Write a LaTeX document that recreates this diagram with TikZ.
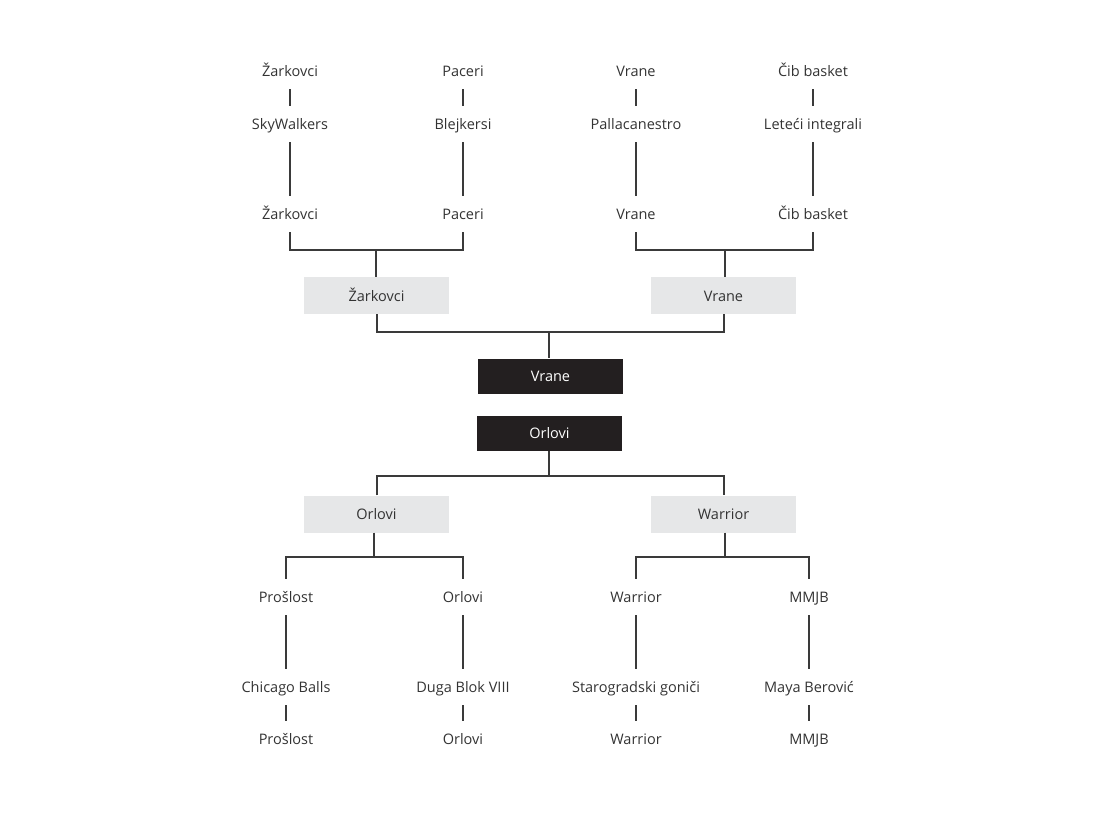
\documentclass[tikz,border=0pt]{standalone}
\usepackage{fontspec}
\setmainfont{Open Sans}
\definecolor{ink}{HTML}{333333}
\definecolor{linec}{HTML}{3A3A3A}
\definecolor{boxgray}{HTML}{E6E7E8}
\definecolor{boxblack}{HTML}{231F20}
\begin{document}
\begin{tikzpicture}[x=1pt,y=-1pt,
  txt/.style={text height=12.5pt,text depth=1.5pt,font=\fontsize{14.5}{17}\selectfont},
  lbl/.style={txt,inner sep=0pt,minimum height=36pt,text=ink},
  graybox/.style={txt,fill=boxgray,inner sep=0pt,minimum width=145pt,minimum height=37pt,text=ink},
  blackbox/.style={txt,fill=boxblack,inner sep=0pt,minimum width=145pt,minimum height=35pt,text=white},
  conn/.style={draw=linec,line width=2pt}]
\useasboundingbox (0,0) rectangle (1100,816);
% top half
\node[lbl] (a1) at (290,71) {Žarkovci};
\node[lbl] (a2) at (290,124) {SkyWalkers};
\node[lbl] (a3) at (290,214) {Žarkovci};
\node[lbl] (b1) at (463,71) {Paceri};
\node[lbl] (b2) at (463,124) {Blejkersi};
\node[lbl] (b3) at (463,214) {Paceri};
\node[lbl] (c1) at (636,71) {Vrane};
\node[lbl] (c2) at (636,124) {Pallacanestro};
\node[lbl] (c3) at (636,214) {Vrane};
\node[lbl] (d1) at (813,71) {Čib basket};
\node[lbl] (d2) at (813,124) {Leteći integrali};
\node[lbl] (d3) at (813,214) {Čib basket};
\node[graybox] (sz) at (376.5,295.5) {Žarkovci};
\node[graybox] (sv) at (723.5,295.5) {Vrane};
\node[blackbox] (fv) at (550.5,376) {Vrane};
\node[blackbox] (fo) at (549.5,433) {Orlovi};
\coordinate (j1) at (376,250);
\coordinate (j2) at (725,250);
\coordinate (j3) at (549,332);
\foreach \p/\q in {a1/a2,a2/a3,b1/b2,b2/b3,c1/c2,c2/c3,d1/d2,d2/d3}
  \draw[conn] (\p.south) -- (\q.north);
\draw[conn] (a3.south) -- (a3.south |- j1) -- (b3.south |- j1) -- (b3.south);
\draw[conn] (j1) -- (j1 |- sz.north);
\draw[conn] (c3.south) -- (c3.south |- j2) -- (d3.south |- j2) -- (d3.south);
\draw[conn] (j2) -- (j2 |- sv.north);
\draw[conn] (sz.south) -- (sz.south |- j3) -- (sv.south |- j3) -- (sv.south);
\draw[conn] (j3) -- (j3 |- fv.north);
% bottom half
\node[graybox] (so) at (376.5,514) {Orlovi};
\node[graybox] (sw) at (723.5,514) {Warrior};
\coordinate (k1) at (549,476);
\draw[conn] (fo.south -| k1) -- (k1);
\draw[conn] (so.north) -- (so.north |- k1) -- (sw.north |- k1) -- (sw.north);
\node[lbl] (e4) at (286,597) {Prošlost};
\node[lbl] (e5) at (286,687) {Chicago Balls};
\node[lbl] (e6) at (286,739) {Prošlost};
\node[lbl] (f4) at (463,597) {Orlovi};
\node[lbl] (f5) at (463,687) {Duga Blok VIII};
\node[lbl] (f6) at (463,739) {Orlovi};
\node[lbl] (g4) at (636,597) {Warrior};
\node[lbl] (g5) at (636,687) {Starogradski goniči};
\node[lbl] (g6) at (636,739) {Warrior};
\node[lbl] (h4) at (809,597) {MMJB};
\node[lbl] (h5) at (809,687) {Maya Berović};
\node[lbl] (h6) at (809,739) {MMJB};
\coordinate (k2) at (374,557);
\coordinate (k3) at (725,557);
\draw[conn] (so.south -| k2) -- (k2);
\draw[conn] (sw.south -| k3) -- (k3);
\draw[conn] (e4.north) -- (e4.north |- k2) -- (f4.north |- k2) -- (f4.north);
\draw[conn] (g4.north) -- (g4.north |- k3) -- (h4.north |- k3) -- (h4.north);
\foreach \p/\q in {e4/e5,e5/e6,f4/f5,f5/f6,g4/g5,g5/g6,h4/h5,h5/h6}
  \draw[conn] (\p.south) -- (\q.north);
\end{tikzpicture}
\end{document}
